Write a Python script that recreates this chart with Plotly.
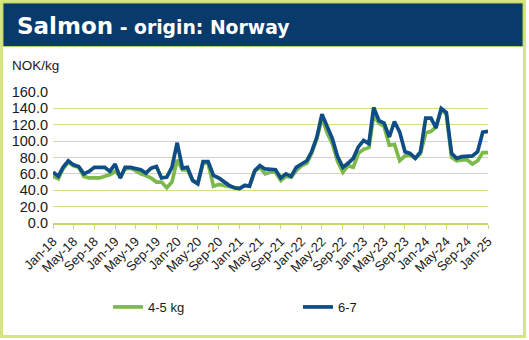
import pandas as pd
import plotly.graph_objects as go

# ---- data (monthly, Jan-18 .. Jan-25) ----
months = pd.date_range("2018-01-01", "2025-01-01", freq="MS")

kg_4_5 = [57, 54, 66, 74, 70, 68, 57, 55, 55, 55, 57, 59,
          63, 57, 66, 67, 64, 60, 58, 55, 50, 50, 43, 50,
          77, 65, 65, 52, 48, 73, 73, 45, 47, 46, 44, 43,
          42, 46, 45, 63, 68, 60, 62, 62, 52, 57, 56, 64,
          70, 73, 85, 103, 128, 110, 97, 75, 62, 70, 68, 85,
          90, 92, 131, 122, 118, 95, 96, 76, 82, 83, 79, 85,
          110, 112, 117, 138, 133, 80, 76, 77, 77, 72, 76, 86,
          86]

kg_6_7 = [62, 57, 68, 76, 71, 69, 60, 63, 68, 68, 68, 63,
          72, 55, 68, 68, 66, 65, 61, 67, 69, 55, 56, 68,
          98, 67, 68, 52, 48, 75, 75, 58, 55, 50, 46, 43,
          42, 46, 45, 64, 70, 66, 66, 65, 55, 60, 57, 68,
          72, 76, 87, 105, 133, 117, 103, 81, 68, 73, 79, 93,
          101, 97, 141, 125, 122, 105, 124, 111, 87, 85, 79, 87,
          128, 128, 116, 140, 135, 85, 79, 81, 82, 82, 87, 111,
          112]

series_names = ["4-5 kg", "6-7"]
series_colors = ["#7cb94a", "#0f4d86"]
y_ticks = [0, 20, 40, 60, 80, 100, 120, 140, 160]

# ---- layout geometry (pixels) ----
W, H = 529, 340
L, R, T, B = 53, 488, 92, 223
PW, PH = R - L, B - T


def px(x):
    return (x - L) / PW


def py(y):
    return (B - y) / PH


fig = go.Figure()
for name, vals, col in zip(series_names, [kg_4_5, kg_6_7], series_colors):
    fig.add_trace(go.Scatter(x=months, y=vals, name=name, mode="lines",
                             line=dict(color=col, width=3.7)))

grid_col = "#d3df8c"
fig.update_layout(
    width=W, height=H,
    margin=dict(l=L, r=W - R, t=T, b=H - B),
    paper_bgcolor="white", plot_bgcolor="white",
    font=dict(family="Liberation Sans, Arial", size=13, color="#1a1a1a"),
    xaxis=dict(
        range=[months[0], months[-1]],
        tickformat="%b-%y", dtick="M4", tick0=months[0],
        tickangle=-45, showgrid=False,
        showline=True, linecolor="#c6d86a", linewidth=1.5,
        ticks="outside", ticklen=4, tickcolor="#c6d86a",
        tickfont=dict(size=13),
    ),
    yaxis=dict(
        range=[0, 160], tickvals=y_ticks, tickformat=".1f",
        showgrid=True, gridcolor=grid_col, gridwidth=1,
        zeroline=False, showline=False, ticks="",
        tickfont=dict(size=14.5), ticklabelstandoff=4,
    ),
    legend=dict(
        orientation="h", x=px(108), xanchor="left",
        y=py(307), yanchor="middle",
        entrywidth=145, entrywidthmode="pixels",
        font=dict(size=13), bgcolor="rgba(0,0,0,0)",
    ),
    shapes=[
        # outer frame
        dict(type="rect", xref="paper", yref="paper",
             x0=px(1.5), x1=px(524.5), y0=py(1.5), y1=py(336.5),
             line=dict(color="#d6e67c", width=3), fillcolor="rgba(0,0,0,0)",
             layer="below"),
        # title bar
        dict(type="rect", xref="paper", yref="paper",
             x0=px(3), x1=px(523), y0=py(3), y1=py(46.5),
             line=dict(color="#b8cc66", width=1), fillcolor="#083a6c",
             layer="below"),
    ],
    annotations=[
        dict(xref="paper", yref="paper", x=px(15), y=py(26),
             xanchor="left", yanchor="middle", showarrow=False,
             text="<b><span style='font-size:23px'>Salmon</span> - origin: Norway</b>",
             font=dict(family="DejaVu Sans, Verdana", size=18.8, color="white")),
        dict(xref="paper", yref="paper", x=px(10), y=py(65),
             xanchor="left", yanchor="middle", showarrow=False,
             text="NOK/kg", font=dict(size=13.5, color="#1a1a1a")),
    ],
)

fig.write_html("out.html")
